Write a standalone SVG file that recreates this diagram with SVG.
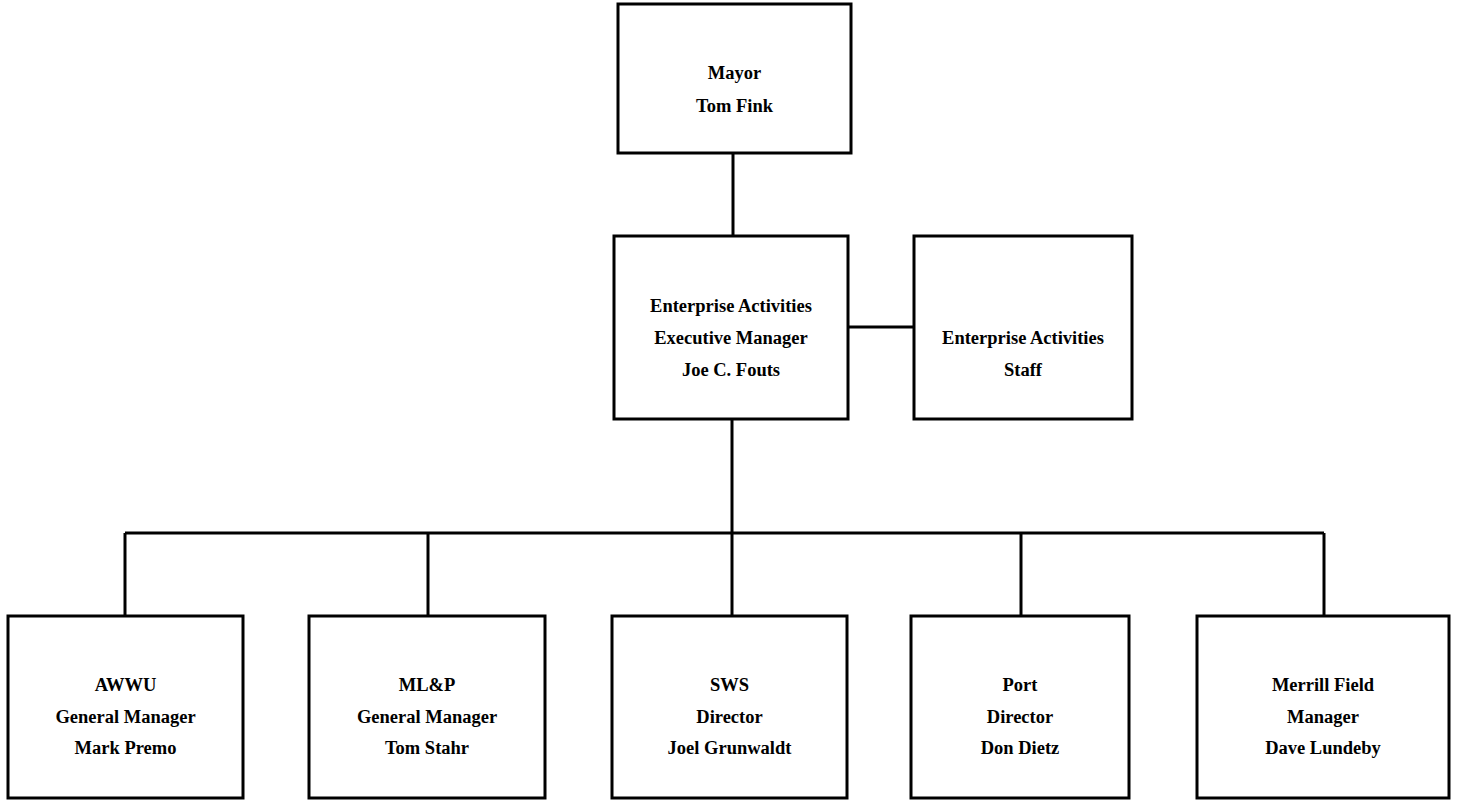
<svg xmlns="http://www.w3.org/2000/svg" width="1458" height="800" viewBox="0 0 1458 800">
<style>
  .box { fill: #ffffff; stroke: #000000; stroke-width: 3; }
  .conn { fill: none; stroke: #000000; stroke-width: 3; }
  text { font-family: "Liberation Serif", "Times New Roman", serif; font-weight: bold; font-size: 18.5px; fill: #000000; text-anchor: middle; }
</style>
<rect x="0" y="0" width="1458" height="800" fill="#ffffff"/>
<g id="connectors">
  <line class="conn" x1="733" y1="153" x2="733" y2="236"/>
  <line class="conn" x1="848" y1="327" x2="914" y2="327"/>
  <line class="conn" x1="732" y1="419" x2="732" y2="533"/>
  <line class="conn" x1="125" y1="533" x2="1324" y2="533"/>
  <line class="conn" x1="125" y1="533" x2="125" y2="616"/>
  <line class="conn" x1="428" y1="533" x2="428" y2="616"/>
  <line class="conn" x1="732" y1="533" x2="732" y2="616"/>
  <line class="conn" x1="1021" y1="533" x2="1021" y2="616"/>
  <line class="conn" x1="1324" y1="533" x2="1324" y2="616"/>
</g>
<g id="mayor">
  <rect class="box" x="618" y="4" width="233" height="149"/>
  <text x="734.5" y="79">Mayor</text>
  <text x="734.5" y="112">Tom Fink</text>
</g>
<g id="exec">
  <rect class="box" x="614" y="236" width="234" height="183"/>
  <text x="731" y="312">Enterprise Activities</text>
  <text x="731" y="344">Executive Manager</text>
  <text x="731" y="376">Joe C. Fouts</text>
</g>
<g id="staff">
  <rect class="box" x="914" y="236" width="218" height="183"/>
  <text x="1023" y="344">Enterprise Activities</text>
  <text x="1023" y="376">Staff</text>
</g>
<g id="awwu">
  <rect class="box" x="8" y="616" width="235" height="182"/>
  <text x="125.5" y="691">AWWU</text>
  <text x="125.5" y="723">General Manager</text>
  <text x="125.5" y="754">Mark Premo</text>
</g>
<g id="mlp">
  <rect class="box" x="309" y="616" width="236" height="182"/>
  <text x="427" y="691">ML&amp;P</text>
  <text x="427" y="723">General Manager</text>
  <text x="427" y="754">Tom Stahr</text>
</g>
<g id="sws">
  <rect class="box" x="612" y="616" width="235" height="182"/>
  <text x="729.5" y="691">SWS</text>
  <text x="729.5" y="723">Director</text>
  <text x="729.5" y="754">Joel Grunwaldt</text>
</g>
<g id="port">
  <rect class="box" x="911" y="616" width="218" height="182"/>
  <text x="1020" y="691">Port</text>
  <text x="1020" y="723">Director</text>
  <text x="1020" y="754">Don Dietz</text>
</g>
<g id="merrill">
  <rect class="box" x="1197" y="616" width="252" height="182"/>
  <text x="1323" y="691">Merrill Field</text>
  <text x="1323" y="723">Manager</text>
  <text x="1323" y="754">Dave Lundeby</text>
</g>
</svg>
